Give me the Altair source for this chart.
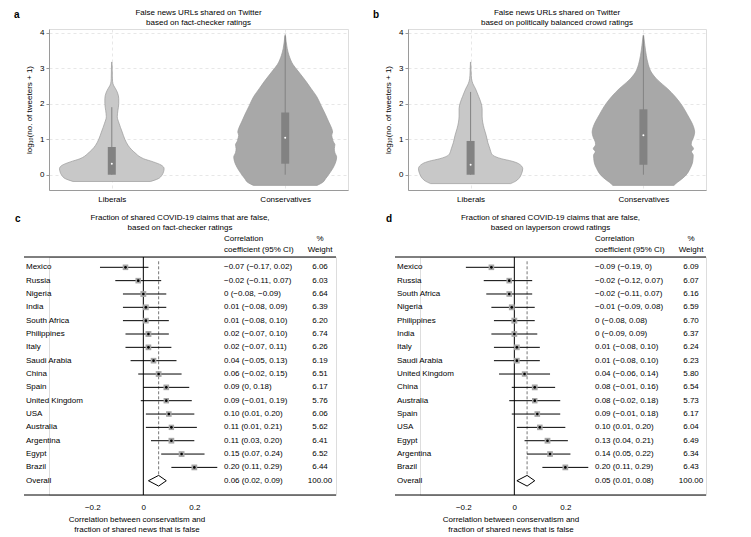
import altair as alt
import pandas as pd

FONT = "Liberation Sans"
LIB_FILL = "#c8c8c8"
CON_FILL = "#a8a8a8"
VIOLIN_STROKE = "#9a9a9a"
BOX = "#828282"
GRID = "#dcdcdc"
AXIS = "#9a9a9a"
SQUARE = "#a6a6a6"

# ---------------- panels a & b : violins ----------------
GROUPS = ["Liberals", "Conservatives"]
GROUP_X = [2, 8]

A_LIB_LEVEL = [-0.19, -0.11, -0.02, 0.08, 0.17, 0.27, 0.36, 0.45, 0.52, 0.59, 0.70, 0.83, 1.00,
               1.20, 1.45, 1.63, 1.80, 2.00, 2.14, 2.30, 2.42, 2.50, 2.56, 2.70, 3.00, 3.17]
A_LIB_HALF = [1.34, 1.61, 1.73, 1.79, 1.81, 1.71, 1.44, 1.10, 0.94, 0.84, 0.69, 0.56, 0.45,
              0.36, 0.25, 0.19, 0.21, 0.24, 0.24, 0.20, 0.13, 0.07, 0.04, 0.02, 0.013, 0.005]
A_CON_LEVEL = [-0.30, -0.22, -0.11, 0.08, 0.26, 0.50, 0.62, 0.73, 0.85, 0.92, 1.00, 1.11, 1.20,
               1.30, 1.48, 1.70, 1.95, 2.20, 2.42, 2.65, 2.89, 3.10, 3.36, 3.55, 3.74, 3.94]
A_CON_HALF = [1.10, 1.29, 1.40, 1.57, 1.70, 1.78, 1.72, 1.70, 1.72, 1.67, 1.64, 1.61, 1.64,
              1.61, 1.51, 1.39, 1.24, 1.09, 0.90, 0.70, 0.47, 0.27, 0.13, 0.07, 0.033, 0.007]
B_LIB_LEVEL = [-0.25, -0.18, -0.11, 0.03, 0.17, 0.31, 0.38, 0.45, 0.55, 0.65, 0.73, 0.90, 1.11,
               1.30, 1.48, 1.65, 1.86, 2.05, 2.20, 2.30, 2.42, 2.56, 2.70, 2.89, 3.17]
B_LIB_HALF = [1.39, 1.57, 1.67, 1.77, 1.81, 1.67, 1.44, 1.07, 0.77, 0.70, 0.67, 0.60, 0.54,
              0.47, 0.42, 0.40, 0.40, 0.35, 0.28, 0.23, 0.17, 0.08, 0.033, 0.017, 0.005]
B_CON_LEVEL = [-0.30, -0.22, -0.16, -0.02, 0.17, 0.36, 0.55, 0.65, 0.73, 0.85, 0.92, 1.05, 1.20,
               1.35, 1.48, 1.70, 1.95, 2.20, 2.42, 2.66, 2.89, 3.10, 3.36, 3.64, 3.93]
B_CON_HALF = [1.06, 1.17, 1.27, 1.47, 1.62, 1.71, 1.73, 1.67, 1.74, 1.66, 1.67, 1.74, 1.78,
              1.74, 1.67, 1.52, 1.34, 1.10, 0.84, 0.50, 0.27, 0.17, 0.10, 0.05, 0.007]

A_Q1 = [0.0, 0.31]
A_Q3 = [0.78, 1.75]
A_MED = [0.31, 1.04]
A_WLO = [0.0, 0.0]
A_WHI = [1.90, 3.90]
B_Q1 = [0.0, 0.28]
B_Q3 = [0.95, 1.84]
B_MED = [0.28, 1.11]
B_WLO = [0.0, 0.0]
B_WHI = [2.33, 3.90]

Y_TICKS = [0, 1, 2, 3, 4]

# ---------------- panels c & d : forest plots ----------------
C_NAMES = ["Mexico", "Russia", "Nigeria", "India", "South Africa", "Philippines", "Italy",
           "Saudi Arabia", "China", "Spain", "United Kingdom", "USA", "Australia",
           "Argentina", "Egypt", "Brazil"]
C_EST = [-0.07, -0.02, 0.00, 0.01, 0.01, 0.02, 0.02, 0.04, 0.06, 0.09, 0.09, 0.10, 0.11, 0.11, 0.15, 0.20]
C_LO = [-0.17, -0.11, -0.08, -0.08, -0.08, -0.07, -0.07, -0.05, -0.02, 0.00, -0.01, 0.01, 0.01, 0.03, 0.07, 0.11]
C_HI = [0.02, 0.07, 0.09, 0.09, 0.10, 0.10, 0.11, 0.13, 0.15, 0.18, 0.19, 0.20, 0.21, 0.20, 0.24, 0.29]
C_CI_TEXT = ["−0.07 (−0.17, 0.02)", "−0.02 (−0.11, 0.07)", "0 (−0.08, −0.09)", "0.01 (−0.08, 0.09)",
             "0.01 (−0.08, 0.10)", "0.02 (−0.07, 0.10)", "0.02 (−0.07, 0.11)", "0.04 (−0.05, 0.13)",
             "0.06 (−0.02, 0.15)", "0.09 (0, 0.18)", "0.09 (−0.01, 0.19)", "0.10 (0.01, 0.20)",
             "0.11 (0.01, 0.21)", "0.11 (0.03, 0.20)", "0.15 (0.07, 0.24)", "0.20 (0.11, 0.29)"]
C_WEIGHT = [6.06, 6.03, 6.64, 6.39, 6.20, 6.74, 6.26, 6.19, 6.51, 6.17, 5.76, 6.06, 5.62, 6.41, 6.52, 6.44]
C_OVERALL = [0.06, 0.02, 0.09]
C_OVERALL_TEXT = "0.06 (0.02, 0.09)"

D_NAMES = ["Mexico", "Russia", "South Africa", "Nigeria", "Philippines", "India", "Italy",
           "Saudi Arabia", "United Kingdom", "China", "Australia", "Spain", "USA", "Egypt",
           "Argentina", "Brazil"]
D_EST = [-0.09, -0.02, -0.02, -0.01, 0.00, 0.00, 0.01, 0.01, 0.04, 0.08, 0.08, 0.09, 0.10, 0.13, 0.14, 0.20]
D_LO = [-0.19, -0.12, -0.11, -0.09, -0.08, -0.09, -0.08, -0.08, -0.06, -0.01, -0.02, -0.01, 0.01, 0.04, 0.05, 0.11]
D_HI = [0.00, 0.07, 0.07, 0.08, 0.08, 0.09, 0.10, 0.10, 0.14, 0.16, 0.18, 0.18, 0.20, 0.21, 0.22, 0.29]
D_CI_TEXT = ["−0.09 (−0.19, 0)", "−0.02 (−0.12, 0.07)", "−0.02 (−0.11, 0.07)", "−0.01 (−0.09, 0.08)",
             "0 (−0.08, 0.08)", "0 (−0.09, 0.09)", "0.01 (−0.08, 0.10)", "0.01 (−0.08, 0.10)",
             "0.04 (−0.06, 0.14)", "0.08 (−0.01, 0.16)", "0.08 (−0.02, 0.18)", "0.09 (−0.01, 0.18)",
             "0.10 (0.01, 0.20)", "0.13 (0.04, 0.21)", "0.14 (0.05, 0.22)", "0.20 (0.11, 0.29)"]
D_WEIGHT = [6.09, 6.07, 6.16, 6.59, 6.70, 6.37, 6.24, 6.23, 5.80, 6.54, 5.73, 6.17, 6.04, 6.49, 6.34, 6.43]
D_OVERALL = [0.05, 0.01, 0.08]
D_OVERALL_TEXT = "0.05 (0.01, 0.08)"

X_TICKS = [-0.2, 0, 0.2]
X_TITLE = ["Correlation between conservatism and", "fraction of shared news that is false"]


def txt(s, x, y, size=8, align="center", weight="normal", baseline="middle"):
    return alt.Chart(pd.DataFrame({"t": [s]})).mark_text(
        align=align, baseline=baseline, fontSize=size, fontWeight=weight,
        font=FONT, color="black"
    ).encode(x=alt.value(x), y=alt.value(y), text="t:N")


def violin_panel(letter, title, profiles, q1, q3, med, wlo, whi, W, H):
    rows = []
    for g, cx, (lv, hw) in zip(GROUPS, GROUP_X, profiles):
        for y, w in zip(lv, hw):
            rows.append({"group": g, "center": cx, "y": y, "hw": w})
    vdf = pd.DataFrame(rows)
    bdf = pd.DataFrame({"group": GROUPS, "center": GROUP_X, "q1": q1, "q3": q3,
                        "med": med, "lo": wlo, "hi": whi})

    xs = alt.Scale(domain=[0, 10], nice=False, zero=False)
    ys = alt.Scale(domain=[-0.43, 4.1], nice=False, zero=False)
    lab = f"datum.value == {GROUP_X[0]} ? '{GROUPS[0]}' : '{GROUPS[1]}'"
    xa = alt.Axis(values=GROUP_X, labelExpr=lab, grid=True, gridDash=[3, 3], gridColor=GRID,
                  gridWidth=0.7, ticks=False, domainColor=AXIS, domainWidth=1,
                  labelFontSize=8, labelPadding=5, labelColor="black", title=None)
    ya = alt.Axis(values=Y_TICKS, grid=True, gridDash=[3, 3], gridColor=GRID, gridWidth=0.7,
                  tickSize=3, tickColor=AXIS, domainColor=AXIS, domainWidth=1,
                  labelFontSize=8, labelPadding=2, labelColor="black",
                  title="log₁₀(no. of tweeters + 1)", titleFontSize=8,
                  titleFontWeight="normal", titleColor="black", titlePadding=6)

    area = alt.Chart(vdf).transform_calculate(
        xl="datum.center - datum.hw", xr="datum.center + datum.hw"
    ).mark_area(orient="horizontal", stroke=VIOLIN_STROKE, strokeWidth=0.7,
                interpolate="monotone", opacity=1).encode(
        y=alt.Y("y:Q", scale=ys, axis=ya),
        x=alt.X("xl:Q", scale=xs, axis=xa),
        x2="xr:Q",
        fill=alt.Fill("group:N", scale=alt.Scale(domain=GROUPS, range=[LIB_FILL, CON_FILL]),
                      legend=None),
    )
    whisk = alt.Chart(bdf).mark_rule(color=BOX, strokeWidth=1).encode(
        x=alt.X("center:Q", scale=xs, axis=xa),
        y=alt.Y("lo:Q", scale=ys, axis=ya), y2="hi:Q")
    box = alt.Chart(bdf).mark_bar(size=8, color=BOX, orient="vertical").encode(
        x=alt.X("center:Q", scale=xs, axis=xa),
        y=alt.Y("q1:Q", scale=ys, axis=ya), y2="q3:Q")
    med_pt = alt.Chart(bdf).mark_point(filled=True, color="white", size=4, opacity=1).encode(
        x=alt.X("center:Q", scale=xs, axis=xa),
        y=alt.Y("med:Q", scale=ys, axis=ya))

    return alt.layer(
        area, whisk, box, med_pt,
        txt(title[0], W / 2, -16), txt(title[1], W / 2, -6),
        txt(letter, -35, -14, size=10, align="left", weight="bold"),
    ).properties(width=W, height=H)


def forest_panel(letter, title, names, est, lo, hi, ci_text, weight, overall, overall_text,
                 xtitle_x, W, H, L=25):
    """Plot area starts L px right of the table's left frame (the label column sits left of it)."""
    n = len(names)
    df = pd.DataFrame({"row": list(range(1, n + 1)), "name": names, "est": est, "lo": lo,
                       "hi": hi, "ci": ci_text, "weight": weight,
                       "wtxt": [f"{v:.2f}" for v in weight]})
    tdf = pd.DataFrame({"row": list(range(1, n + 2)), "name": names + ["Overall"],
                        "ci": ci_text + [overall_text],
                        "wtxt": [f"{v:.2f}" for v in weight] + ["100.00"]})
    o_est, o_lo, o_hi = overall
    orow = n + 1
    ddf = pd.DataFrame({"k": [0, 1, 2, 3, 4],
                        "dx": [o_lo, o_est, o_hi, o_est, o_lo],
                        "dy": [orow, orow - 0.4, orow, orow + 0.4, orow]})
    odf = pd.DataFrame({"est": [o_est], "top": [0.55], "bot": [orow - 0.4]})

    px_per_unit = 255.0
    x_lo = -0.468 + L / px_per_unit
    xs = alt.Scale(domain=[x_lo, x_lo + (W - L) / px_per_unit], nice=False, zero=False)
    ys = alt.Scale(domain=[0.227, n + 2.07], reverse=True, nice=False, zero=False)
    xa = alt.Axis(values=X_TICKS,
                  labelExpr="datum.value == 0 ? '0' : replace(format(datum.value, '.1f'), '-', '−')",
                  ticks=False, grid=False, domain=False,
                  labelFontSize=8, labelPadding=8, labelColor="black", title=None)

    X = lambda f: alt.X(f, scale=xs, axis=xa)
    Y = lambda f: alt.Y(f, scale=ys, axis=None)
    one = pd.DataFrame({"a": [0]})

    top_rule = alt.Chart(one).mark_rule(color="black", strokeWidth=1).encode(
        x=alt.value(-L), x2=alt.value(W - L), y=alt.value(0))
    bottom_rule = alt.Chart(one).mark_rule(color="black", strokeWidth=1).encode(
        x=alt.value(-L), x2=alt.value(W - L), y=alt.value(H))
    zero = alt.Chart(pd.DataFrame({"z": [0]})).mark_rule(color="black", strokeWidth=1).encode(
        x=X("z:Q"))
    dashed = alt.Chart(odf).mark_rule(color="#555555", strokeDash=[3, 2], strokeWidth=0.8).encode(
        x=X("est:Q"), y=Y("top:Q"), y2="bot:Q")
    ci = alt.Chart(df).mark_rule(color="black", strokeWidth=1).encode(
        x=X("lo:Q"), x2="hi:Q", y=Y("row:Q"))
    sq = alt.Chart(df).mark_square(color=SQUARE, opacity=1).encode(
        x=X("est:Q"), y=Y("row:Q"),
        size=alt.Size("weight:Q", scale=alt.Scale(domain=[0, 7], range=[0, 36]), legend=None))
    dot = alt.Chart(df).mark_point(filled=True, color="black", size=7, opacity=1).encode(
        x=X("est:Q"), y=Y("row:Q"))
    diamond = alt.Chart(ddf).mark_line(color="black", strokeWidth=1).encode(
        x=X("dx:Q"), y=Y("dy:Q"), order="k:Q")

    def col(field, x, align):
        return alt.Chart(tdf).mark_text(align=align, baseline="middle", fontSize=8,
                                        font=FONT, color="black").encode(
            x=alt.value(x - L), y=Y("row:Q"), text=f"{field}:N")

    return alt.layer(
        top_rule, bottom_rule, zero, dashed, ci, sq, dot, diamond,
        col("name", 2, "left"), col("ci", 200, "left"), col("wtxt", 296, "center"),
        txt("Correlation", 200 - L, -18, align="left"),
        txt("coefficient (95% CI)", 200 - L, -7, align="left"),
        txt("%", 296 - L, -18), txt("Weight", 296 - L, -7),
        txt(title[0], W / 2 - L, -39), txt(title[1], W / 2 - L, -29),
        txt(letter, -9 - L, -38, size=10, align="left", weight="bold"),
        txt(X_TITLE[0], xtitle_x - L, H + 24.5), txt(X_TITLE[1], xtitle_x - L, H + 34.5),
    ).properties(width=W - L, height=H)


a = violin_panel("a", ["False news URLs shared on Twitter", "based on fact-checker ratings"],
                 [(A_LIB_LEVEL, A_LIB_HALF), (A_CON_LEVEL, A_CON_HALF)],
                 A_Q1, A_Q3, A_MED, A_WLO, A_WHI, 299, 161)
b = violin_panel("b", ["False news URLs shared on Twitter",
                       "based on politically balanced crowd ratings"],
                 [(B_LIB_LEVEL, B_LIB_HALF), (B_CON_LEVEL, B_CON_HALF)],
                 B_Q1, B_Q3, B_MED, B_WLO, B_WHI, 298, 161)
c = forest_panel("c", ["Fraction of shared COVID-19 claims that are false,",
                       "based on fact-checker ratings"],
                 C_NAMES, C_EST, C_LO, C_HI, C_CI_TEXT, C_WEIGHT, C_OVERALL, C_OVERALL_TEXT,
                 113, 312, 238)
d = forest_panel("d", ["Fraction of shared COVID-19 claims that are false,",
                       "based on layperson crowd ratings"],
                 D_NAMES, D_EST, D_LO, D_HI, D_CI_TEXT, D_WEIGHT, D_OVERALL, D_OVERALL_TEXT,
                 116, 311, 238)

chart = alt.ConcatChart(
    concat=[alt.hconcat(a, b, spacing=23), alt.hconcat(c, d, spacing=48)],
    columns=1,
    align="none",
    spacing=9,
).properties(
    padding={"left": 5, "top": 0, "right": 0, "bottom": 0}
).configure_view(stroke=None).configure_axis(
    labelFont=FONT, titleFont=FONT
).configure_text(font=FONT).configure(background="white")

chart.save("out.html", embed_options={"renderer": "svg", "actions": False})
